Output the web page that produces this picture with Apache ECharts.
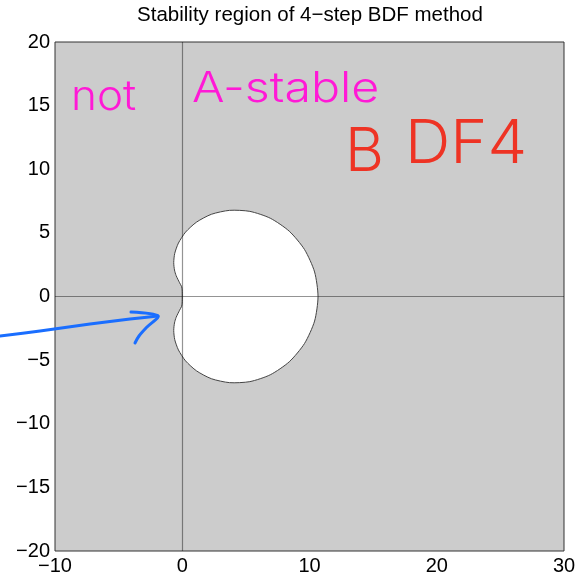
<!DOCTYPE html>
<html>
<head>
<meta charset="utf-8">
<script src="https://cdn.jsdelivr.net/npm/echarts@6/dist/echarts.min.js"></script>
<style>
html,body{margin:0;padding:0;background:#fff;}
#c{width:584px;height:580px;}
</style>
</head>
<body>
<div id="c"></div>
<script>
const boundaryRe = [0, -0.01, -0.05, -0.21, -0.48, -0.61, -0.67, -0.59, -0.30, 0.26, 1.13, 2.29, 3.72, 5.31, 6.92, 8.41, 9.61, 10.40, 10.67, 10.40, 9.61, 8.41, 6.92, 5.31, 3.72, 2.29, 1.13, 0.26, -0.30, -0.59, -0.67, -0.61, -0.48, -0.21, -0.05, -0.01];
const boundaryIm = [0, 0.52, 0.77, 1.08, 1.64, 2.08, 2.67, 3.39, 4.20, 5.06, 5.85, 6.46, 6.77, 6.69, 6.15, 5.13, 3.69, 1.93, 0, -1.93, -3.69, -5.13, -6.15, -6.69, -6.77, -6.46, -5.85, -5.06, -4.20, -3.39, -2.67, -2.08, -1.64, -1.08, -0.77, -0.52];
const xTicks = [-10, 0, 10, 20, 30];
const yTicks = [-20, -15, -10, -5, 0, 5, 10, 15, 20];
const titleText = 'Stability region of 4\u2212step BDF method';
const noteMagenta1 = 'not';
const noteMagenta2 = 'A-stable';
const noteRed1 = 'B';
const noteRed2 = 'DF4';

const pts = boundaryRe.map((x, i) => [x, boundaryIm[i]]);
const fmt = v => (v < 0 ? '\u2212' + Math.abs(v) : String(v));
const font = 'Liberation Sans, Arial, Helvetica, sans-serif';
const hand = 'Inter, "DejaVu Sans", sans-serif';

const chart = echarts.init(document.getElementById('c'), null, {renderer: 'canvas'});
chart.setOption({
  animation: false,
  backgroundColor: '#ffffff',
  grid: {left: 55, right: 20, top: 42, bottom: 29, show: true, backgroundColor: '#cccccc', borderColor: '#333333', borderWidth: 1},
  xAxis: {
    type: 'value', min: xTicks[0], max: xTicks[xTicks.length - 1], interval: 10,
    axisLine: {show: false}, axisTick: {show: false}, splitLine: {show: false},
    axisLabel: {color: '#000', fontSize: 20, fontFamily: font, margin: 5, formatter: fmt, showMinLabel: true, showMaxLabel: true}
  },
  yAxis: {
    type: 'value', min: yTicks[0], max: yTicks[yTicks.length - 1], interval: 5,
    axisLine: {show: false}, axisTick: {show: false}, splitLine: {show: false},
    axisLabel: {color: '#000', fontSize: 20, fontFamily: font, margin: 5, formatter: fmt, showMinLabel: true, showMaxLabel: true}
  },
  series: [
    {
      type: 'custom', z: 2, silent: true,
      data: [0],
      renderItem: function (params, api) {
        const poly = pts.map(p => api.coord(p));
        return {
          type: 'polygon',
          shape: {points: poly, smooth: 0.25},
          style: {fill: '#ffffff', stroke: '#444444', lineWidth: 1}
        };
      }
    },
    {
      type: 'line', z: 3, data: [], silent: true,
      markLine: {
        silent: true, symbol: 'none', label: {show: false},
        lineStyle: {color: 'rgba(0,0,0,0.42)', width: 1.2, type: 'solid'},
        data: [{xAxis: 0}, {yAxis: 0}]
      }
    }
  ],
  graphic: [
    {type: 'text', x: 310, y: 5, style: {text: titleText, font: '20.5px ' + font, fill: '#000', align: 'center'}},
    {type: 'text', x: 71, y: 76, scaleX: 1.05, style: {text: noteMagenta1, font: '300 42px ' + hand, fill: '#ff19d6'}},
    {type: 'text', x: 192, y: 68, scaleX: 1.15, style: {text: noteMagenta2, font: '300 42px ' + hand, fill: '#ff19d6'}},
    {type: 'text', x: 345, y: 123, style: {text: noteRed1, font: '300 60px ' + hand, fill: '#ee3324'}},
    {type: 'text', x: 405, y: 115, scaleX: 1.05, style: {text: noteRed2, font: '300 60px ' + hand, fill: '#ee3324'}},
    {type: 'polyline', shape: {points: [[0, 336], [40, 331], [90, 324], [130, 319], [158, 316]], smooth: 0.3},
      style: {stroke: '#1a6eff', lineWidth: 3, fill: null, lineCap: 'round'}},
    {type: 'polyline', shape: {points: [[131, 312], [158, 316], [147, 327], [139, 336], [135, 343]], smooth: 0.3},
      style: {stroke: '#1a6eff', lineWidth: 3, fill: null, lineCap: 'round', lineJoin: 'round'}}
  ]
});
</script>
</body>
</html>
